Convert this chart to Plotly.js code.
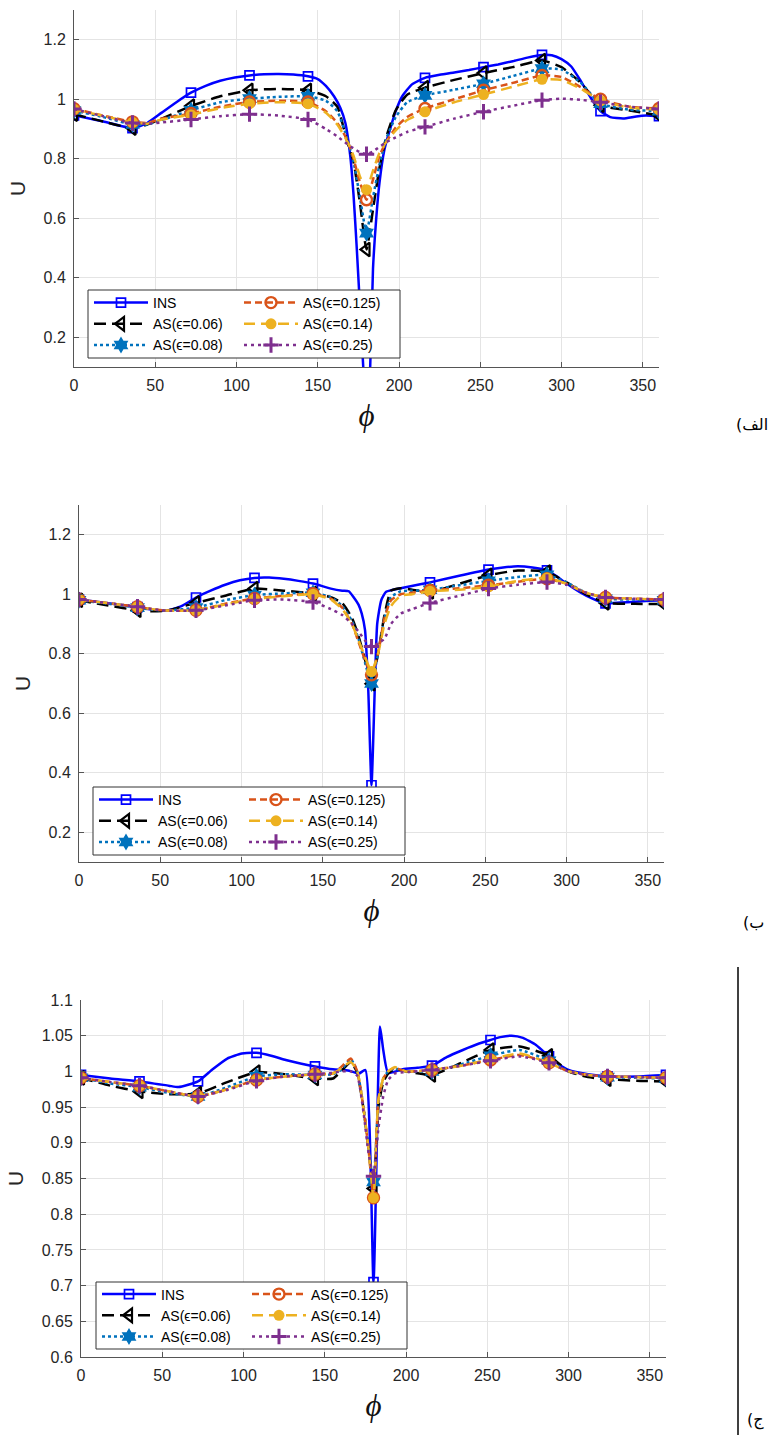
<!DOCTYPE html>
<html><head><meta charset="utf-8">
<script src="https://cdn.plot.ly/plotly-3.0.1.min.js"></script>
<style>body{margin:0;background:#fff}#chart{width:773px;height:1435px}</style>
</head><body><div id="chart"></div>
<script>
// ---------------- DATA ----------------
const seriesNames = ['INS', 'AS(ϵ=0.06)', 'AS(ϵ=0.08)', 'AS(ϵ=0.125)', 'AS(ϵ=0.14)', 'AS(ϵ=0.25)'];
const panelLabels = ['الف)', 'ب)', 'ج)'];
const xTitle = 'ϕ';
const yTitle = 'U';

// Panel (الف)
const phiA_INS = [0,18,36,45,54,63,72,81,90,99,108,117,126,135,144,150,155,160,164,167,170,172,174,176,178,180,182,184,186,188,191,194,198,202,208,216,225,234,243,252,261,270,279,288,294,300,306,312,318,324,330,338,346,352,360];
const a_INS = [0.946,0.925,0.903,0.92,0.955,0.99,1.022,1.045,1.062,1.073,1.080,1.084,1.085,1.083,1.077,1.068,1.045,1.01,0.97,0.92,0.81,0.68,0.5,0.3,0.1,-0.1,0.05,0.43,0.6,0.72,0.83,0.89,0.96,1.01,1.05,1.072,1.082,1.09,1.098,1.108,1.117,1.128,1.14,1.149,1.148,1.135,1.11,1.06,1.005,0.96,0.94,0.935,0.942,0.945,0.943];
const phiA_AS = [0,18,36,45,54,72,90,108,126,144,155,162,168,172,176,180,184,188,192,198,205,216,234,252,270,288,300,312,324,342,360];
const a_AS006 = [0.95,0.925,0.903,0.915,0.935,0.977,1.01,1.03,1.035,1.03,1.01,0.975,0.86,0.79,0.65,0.495,0.63,0.77,0.87,0.963,1.015,1.039,1.065,1.088,1.108,1.13,1.108,1.055,0.98,0.962,0.946];
const a_AS008 = [0.962,0.94,0.915,0.915,0.93,0.963,0.99,1.002,1.008,1.01,0.995,0.96,0.87,0.79,0.67,0.55,0.67,0.78,0.865,0.94,0.99,1.013,1.032,1.052,1.078,1.103,1.1,1.055,0.985,0.965,0.96];
const a_AS0125 = [0.968,0.945,0.924,0.92,0.935,0.952,0.975,0.991,0.995,0.991,0.96,0.92,0.865,0.8,0.72,0.662,0.73,0.81,0.855,0.905,0.94,0.969,1.0,1.03,1.055,1.08,1.075,1.04,1.0,0.975,0.969];
const a_AS014 = [0.966,0.944,0.922,0.918,0.932,0.948,0.97,0.985,0.99,0.985,0.955,0.915,0.86,0.81,0.74,0.696,0.76,0.82,0.855,0.895,0.93,0.958,0.99,1.016,1.042,1.067,1.065,1.035,0.995,0.972,0.965];
const a_AS025 = [0.967,0.943,0.92,0.918,0.922,0.932,0.943,0.95,0.945,0.932,0.9,0.875,0.85,0.835,0.822,0.815,0.825,0.84,0.855,0.872,0.89,0.907,0.935,0.958,0.978,0.997,1.002,0.998,0.99,0.975,0.967];

// Panel (ب)
const phiB_INS = [0,18,36,45,54,63,72,81,90,99,108,117,126,135,144,155,162,166,169,172,174,176,178,180,182,183.5,186,189,198,207,216,234,252,261,270,279,288,294,300,308,316,324,333,342,351,360];
const b_INS = [0.982,0.97,0.957,0.948,0.945,0.96,0.989,1.012,1.032,1.047,1.055,1.056,1.052,1.045,1.036,1.019,1.012,1.01,0.99,0.965,0.935,0.88,0.68,0.358,0.68,0.9,0.98,1.008,1.02,1.03,1.04,1.062,1.083,1.09,1.094,1.09,1.08,1.06,1.036,1.008,0.985,0.969,0.972,0.975,0.978,0.98];
const phiB_AS = [0,18,36,45,54,72,90,108,126,144,155,162,168,172,176,180,184,188,192,198,205,216,234,252,270,288,300,312,324,342,360];
const b_AS006 = [0.98,0.962,0.946,0.943,0.945,0.971,0.995,1.019,1.012,1.002,0.99,0.97,0.92,0.86,0.78,0.699,0.8,0.93,1.012,1.02,1.015,1.008,1.035,1.064,1.08,1.075,1.04,1.0,0.971,0.968,0.967];
const b_AS008 = [0.98,0.968,0.955,0.948,0.945,0.955,0.98,0.997,1.003,1.005,0.99,0.96,0.91,0.85,0.77,0.7,0.8,0.92,0.99,1.01,1.012,1.015,1.03,1.045,1.058,1.065,1.04,1.005,0.985,0.982,0.98];
const b_AS0125 = [0.982,0.97,0.958,0.95,0.945,0.946,0.968,0.986,0.995,1.002,0.985,0.955,0.9,0.84,0.78,0.729,0.8,0.92,0.98,1.0,1.005,1.013,1.02,1.03,1.042,1.052,1.035,1.005,0.989,0.985,0.982];
const b_AS014 = [0.982,0.97,0.958,0.95,0.945,0.946,0.966,0.984,0.993,1.0,0.982,0.95,0.9,0.845,0.79,0.74,0.8,0.9,0.96,0.995,1.0,1.01,1.015,1.025,1.045,1.055,1.035,1.005,0.989,0.985,0.982];
const b_AS025 = [0.982,0.97,0.958,0.95,0.945,0.946,0.962,0.98,0.982,0.974,0.95,0.93,0.9,0.875,0.845,0.824,0.835,0.85,0.9,0.935,0.95,0.971,0.995,1.019,1.032,1.041,1.032,1.005,0.989,0.985,0.982];

// Panel (ج)
const phiC_INS = [0,18,36,54,60,72,81,90,99,108,117,126,135,144,155,165,171,175,180,184,186,189,198,207,216,225,235,245,252,258,265,272,280,288,294,300,312,324,342,360];
const c_INS = [0.995,0.99,0.986,0.98,0.978,0.986,1.003,1.018,1.025,1.026,1.022,1.016,1.011,1.007,1.003,1.001,0.997,1.002,0.705,1.063,1.03,0.998,1.003,1.005,1.008,1.02,1.03,1.039,1.044,1.048,1.05,1.047,1.037,1.021,1.01,1.002,0.996,0.993,0.993,0.995];
const phiC_AS = [0,18,36,54,72,90,108,126,144,155,160,166,170,174,177,180,183,186,189,193,200,216,234,252,270,288,300,312,324,342,360];
const c_AS006 = [0.991,0.98,0.972,0.968,0.969,0.985,0.999,0.996,0.99,0.99,1.0,1.013,0.998,0.945,0.89,0.836,0.95,0.985,0.997,1.003,1.0,0.995,1.012,1.03,1.035,1.022,1.0,0.992,0.989,0.987,0.986];
const c_AS008 = [0.991,0.983,0.978,0.97,0.965,0.978,0.993,0.996,0.995,0.996,1.002,1.017,1.0,0.948,0.89,0.845,0.955,0.99,1.0,1.004,1.0,1.0,1.01,1.022,1.03,1.015,1.0,0.995,0.992,0.991,0.99];
const c_AS0125 = [0.991,0.985,0.98,0.972,0.965,0.975,0.988,0.993,0.996,0.997,1.006,1.018,1.0,0.946,0.89,0.823,0.96,0.99,1.0,1.005,1.0,1.002,1.008,1.016,1.023,1.012,1.0,0.995,0.993,0.992,0.991];
const c_AS014 = [0.991,0.985,0.98,0.972,0.965,0.975,0.988,0.993,0.996,0.997,1.004,1.013,1.0,0.946,0.89,0.823,0.96,0.99,1.0,1.006,1.0,1.002,1.008,1.017,1.025,1.012,1.0,0.995,0.993,0.992,0.991];
const c_AS025 = [0.991,0.985,0.98,0.972,0.965,0.974,0.987,0.993,0.996,0.998,1.0,1.0,0.994,0.94,0.885,0.853,0.92,0.965,0.988,0.997,0.999,1.002,1.008,1.015,1.021,1.012,1.0,0.995,0.993,0.992,0.991];

const yRanges = [[0.1, 1.3], [0.1, 1.3], [0.6, 1.1]];
const yDticks = [0.2, 0.2, 0.05];

// ---------------- LAYOUT / STYLE ----------------
const W = 773, H = 1435;
const px = v => v / W, py = v => 1 - v / H;
const styles = [
  {color:'#0000FF', dash:'solid',    symbol:'square-open',        size:9,  mlw:1.7},
  {color:'#000000', dash:'12px,6px', symbol:'triangle-left-open', size:12, mlw:2.2},
  {color:'#0072BD', dash:'3px,3px',  symbol:'hexagram',           size:13, mlw:0},
  {color:'#D95319', dash:'7px,4px',  symbol:'circle-open',        size:11, mlw:2.4},
  {color:'#EDB120', dash:'11px,6px', symbol:'circle',             size:11, mlw:0},
  {color:'#7E2F8E', dash:'3px,4px',  symbol:'cross-thin-open',    size:11, mlw:3}
];
const panels = [
  {ins:[phiA_INS, a_INS], as:phiA_AS, s:[a_AS006,a_AS008,a_AS0125,a_AS014,a_AS025],
   box:{l:74, r:659, t:10, b:367}, leg:{l:88, r:400, t:295, b:353}},
  {ins:[phiB_INS, b_INS], as:phiB_AS, s:[b_AS006,b_AS008,b_AS0125,b_AS014,b_AS025],
   box:{l:79, r:664, t:505, b:862}, leg:{l:93, r:405, t:792, b:850}},
  {ins:[phiC_INS, c_INS], as:phiC_AS, s:[c_AS006,c_AS008,c_AS0125,c_AS014,c_AS025],
   box:{l:81, r:666, t:1000, b:1357}, leg:{l:96, r:407, t:1287, b:1344}}
];
const labelPos = [{x:770, y:424}, {x:766, y:922}, {x:766, y:1420}];

const traces = [];
const layout = {
  width: W, height: H, margin:{l:0, r:0, t:0, b:0},
  paper_bgcolor:'#fff', plot_bgcolor:'#fff', showlegend:true,
  font:{family:'Liberation Sans, Arial, sans-serif', color:'#262626'},
  shapes:[], annotations:[]
};
const tickFont = {family:'Liberation Sans, Arial, sans-serif', size:16, color:'#262626'};

panels.forEach((p, pi) => {
  const n = pi + 1;
  const xa = n === 1 ? 'x' : 'x' + n, ya = n === 1 ? 'y' : 'y' + n;
  const legA = pi === 0 ? 'legend' : 'legend' + (2 * pi + 1);
  const legB = 'legend' + (2 * pi + 2);
  const all = [p.ins].concat(p.s.map(v => [p.as, v]));
  all.forEach(([x, y], k) => {
    const st = styles[k];
    const sel = [];
    x.forEach((v, i) => { if (v % 36 === 0) sel.push(i); });
    traces.push({
      type:'scatter', mode:'lines+markers', x:x, y:y, name:seriesNames[k],
      xaxis:xa, yaxis:ya, legend: k < 3 ? legA : legB, hoverinfo:'skip',
      line:{color:st.color, width:2.5, dash:st.dash, shape:'spline', smoothing:0.5},
      marker:{symbol:st.symbol, size:st.size, color:st.color, line:{color:st.color, width:st.mlw}},
      selectedpoints: sel, selected:{marker:{opacity:1}}, unselected:{marker:{opacity:0}}
    });
  });
  const b = p.box;
  layout['xaxis' + (n === 1 ? '' : n)] = {
    domain:[px(b.l), px(b.r)], anchor:ya, range:[0, 360], tick0:0, dtick:50,
    showgrid:true, gridcolor:'#e4e4e4', gridwidth:1, zeroline:false,
    showline:true, linecolor:'#555', linewidth:1, ticks:'inside', ticklen:5, tickcolor:'#555',
    tickfont:tickFont, ticklabelstandoff:4, automargin:false, fixedrange:true,
    title:{text:'<i>' + xTitle + '</i>', font:{family:'Liberation Serif, DejaVu Serif, serif', size:31, color:'#111'}, standoff:11}
  };
  layout['yaxis' + (n === 1 ? '' : n)] = {
    domain:[py(b.b), py(b.t)], anchor:xa, range:yRanges[pi], tick0:0, dtick:yDticks[pi],
    showgrid:true, gridcolor:'#e4e4e4', gridwidth:1, zeroline:false,
    showline:true, linecolor:'#555', linewidth:1, ticks:'inside', ticklen:5, tickcolor:'#555',
    tickfont:tickFont, ticklabelstandoff:4, automargin:false, fixedrange:true,
    title:{text:yTitle, font:{family:'Liberation Sans, Arial, sans-serif', size:21, color:'#262626'}, standoff:12}
  };
  const L = p.leg, yc = (L.t + L.b) / 2;
  const legFont = {family:'Liberation Sans, Arial, sans-serif', size:14, color:'#000'};
  const legBase = {bgcolor:'rgba(0,0,0,0)', borderwidth:0, font:legFont, itemwidth:54,
                   tracegroupgap:0, traceorder:'normal', yanchor:'middle', xanchor:'left', y:py(yc), orientation:'v'};
  layout[legA] = Object.assign({}, legBase, {x:px(L.l + 1)});
  layout[legB] = Object.assign({}, legBase, {x:px(L.l + 151)});
  layout.shapes.push({type:'rect', xref:'paper', yref:'paper', x0:px(L.l), x1:px(L.r), y0:py(L.b + 5), y1:py(L.t - 5),
    fillcolor:'#fff', line:{color:'#333', width:1}, layer:'above'});
  layout.annotations.push({xref:'paper', yref:'paper', x:px(labelPos[pi].x), y:py(labelPos[pi].y),
    xanchor:'right', yanchor:'middle', showarrow:false, text:panelLabels[pi] + '\u200F',
    font:{family:'DejaVu Sans, Noto Sans, sans-serif', size:16, color:'#000'}});
});
layout.shapes.push({type:'line', xref:'paper', yref:'paper', x0:px(738), x1:px(738), y0:py(967), y1:0,
  line:{color:'#000', width:1.5}});

Plotly.newPlot('chart', traces, layout, {staticPlot:true, displayModeBar:false});
</script></body></html>
